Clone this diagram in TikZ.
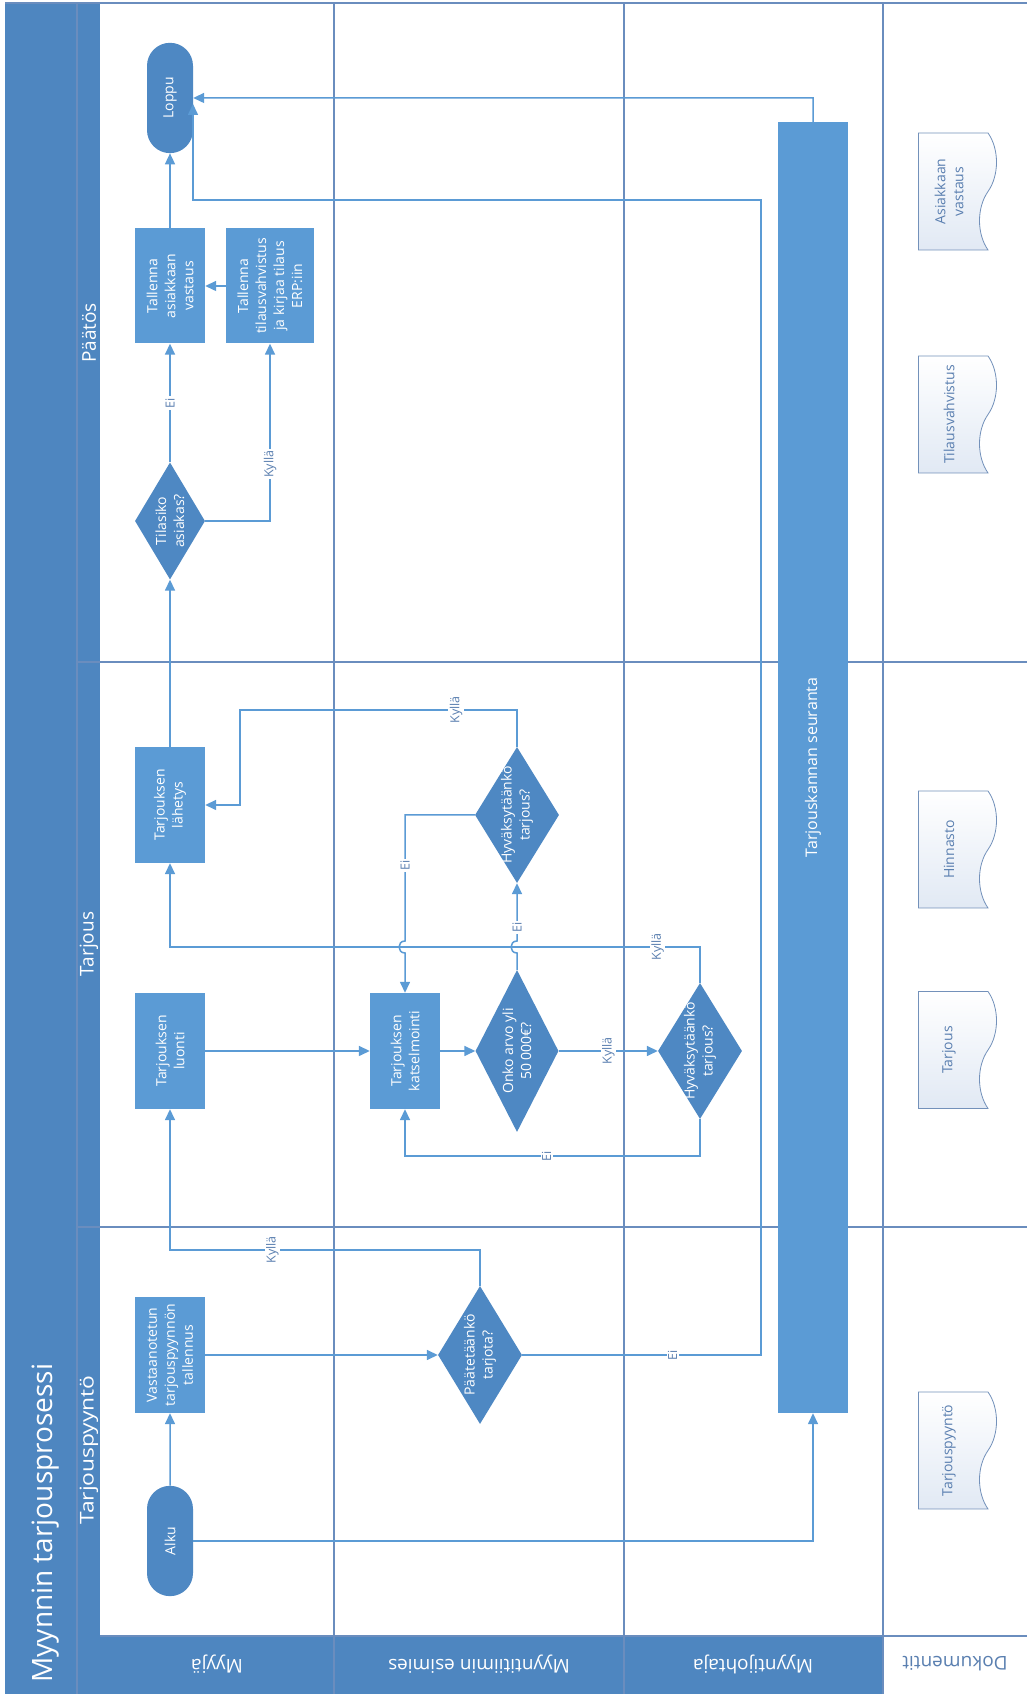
\documentclass[tikz,border=0pt]{standalone}
\usepackage{fontspec}
\setmainfont{Open Sans}
\usetikzlibrary{shapes.geometric, shapes.misc, shapes.symbols, arrows.meta}
\definecolor{laneblue}{HTML}{4E86C0}
\definecolor{procblue}{HTML}{5B9BD5}
\definecolor{decblue}{HTML}{4E88C3}
\definecolor{gridline}{HTML}{6A8DBE}
\definecolor{linkblue}{HTML}{5B9BD5}
\definecolor{labeltext}{HTML}{5A7FB0}
\definecolor{docfill}{HTML}{E1E9F4}
\definecolor{docline}{HTML}{7391BA}
\tikzset{
  block/.style={rectangle, fill=procblue, text=white, align=center,
                minimum width=116pt, minimum height=70pt, inner sep=2pt,
                font=\fontsize{14}{18}\selectfont},
  decision/.style={diamond, fill=decblue, inner sep=0pt,
                   minimum width=136pt, minimum height=84pt},
  dtext/.style={text=white, align=center, font=\fontsize{14}{18}\selectfont},
  terminal/.style={rounded rectangle, fill=decblue, text=white,
                   minimum width=117pt, minimum height=46pt,
                   font=\fontsize{14}{18}\selectfont},
  docshape/.style={tape, tape bend top=none, tape bend bottom=out and in,
                   tape bend height=17pt, draw=docline, line width=0.8pt,
                   top color=white, bottom color=docfill, text=labeltext,
                   align=center, minimum width=117pt, minimum height=78pt,
                   font=\fontsize{14}{18}\selectfont},
  lanelabel/.style={rotate=90, font=\fontsize{19}{22}\selectfont, text=white},
  phase/.style={font=\fontsize{19}{22}\selectfont, text=white},
  lane/.style={draw=gridline, line width=1.1pt},
  arrow/.style={-{Triangle[length=11pt,width=10pt]}, draw=linkblue, line width=1.5pt},
  lbl/.style={fill=white, text=labeltext, inner sep=1.5pt,
              font=\fontsize{12.5}{14}\selectfont},
}

\begin{document}
\begin{tikzpicture}[x=1pt, y=-1pt, rotate=90, transform shape]
  \useasboundingbox (0,0) rectangle (1694,1027);

  % frame, title and lanes
  \fill[laneblue] (0,5) rectangle (1691,100);
  \fill[white] (58,100) rectangle (1691,1027);
  \fill[laneblue] (0,100) rectangle (58,883);
  \draw[lane] (0,77) -- (1691,77);
  \draw[lane] (1691,5) -- (1691,1027);
  \draw[lane] (58,100) -- (58,1027);
  \foreach \y in {334,624,883}
    \draw[lane] (0,\y) -- (1691,\y);
  \foreach \x in {467,1032}
    \draw[lane] (\x,77) -- (\x,1027);

  \node[text=white, font=\fontsize{28}{32}\selectfont, anchor=base west] (title) at (8,52) {Myynnin tarjousprosessi};
  \node[phase, xscale=1.2] (ph1) at (244,89) {Tarjouspyyntö};
  \node[phase] (ph2) at (750,89) {Tarjous};
  \node[phase] (ph3) at (1361,89) {Päätös};

  \node[lanelabel] (lmyyja) at (30,217) {Myyjä};
  \node[lanelabel] (lesimies) at (30,479) {Myyntitiimin esimies};
  \node[lanelabel] (ljohtaja) at (30,753) {Myyntijohtaja};
  \node[lanelabel, text=labeltext] (ldoc) at (30,955) {Dokumentit};

  % process
  \node[terminal] (alku) at (153,170) {Alku};
  \node[block] (vast) at (339,170) {Vastaanotetun\\tarjouspyynnön\\tallennus};
  \node[decision, minimum width=138pt, label={[dtext]center:{Päätetäänkö\\tarjota?}}] (paat) at (339,480) {};
  \node[block] (luonti) at (643,170) {Tarjouksen\\luonti};
  \node[block] (katsel) at (643,405) {Tarjouksen\\katselmointi};
  \node[decision, minimum width=162pt, minimum height=83pt, label={[dtext]center:{Onko arvo yli\\50 000€?}}] (onko) at (643,517) {};
  \node[decision, label={[dtext]center:{Hyväksytäänkö\\tarjous?}}] (hyvesim) at (879,517) {};
  \node[decision, label={[dtext]center:{Hyväksytäänkö\\tarjous?}}] (hyvjoht) at (643,700) {};
  \node[block] (lahetys) at (889,170) {Tarjouksen\\lähetys};
  \node[decision, minimum width=117pt, minimum height=70pt, label={[dtext]center:{Tilasiko\\asiakas?}}] (tilasiko) at (1173,170) {};
  \node[block, minimum width=115pt] (vastaus) at (1408,170) {Tallenna\\asiakkaan\\vastaus};
  \node[block, minimum width=115pt, minimum height=88pt] (erp) at (1408,270) {Tallenna\\tilausvahvistus\\ja kirjaa tilaus\\ERP:iin};
  \node[terminal] (loppu) at (1596,170) {Loppu};
  \node[block, minimum width=1291pt, font=\fontsize{16}{19}\selectfont] (seuranta) at (926.5,813) {Tarjouskannan seuranta};
  \coordinate (loppuin) at (1590,193);

  % documents
  \node[docshape] (dpyynto) at (243.5,949) {Tarjouspyyntö};
  \node[docshape] (dtarjous) at (644,949) {Tarjous};
  \node[docshape] (dhinnasto) at (844.5,949) {Hinnasto};
  \node[docshape] (dvahvistus) at (1279.5,949) {Tilausvahvistus};
  \node[docshape] (dvastaus) at (1502.5,949) {Asiakkaan\\vastaus};

  % connectors
  \draw[arrow] (alku) -- (vast);
  \draw[arrow] (alku.south) -- (153,813) -- (seuranta.west);
  \draw[arrow] (vast) -- (paat);
  \draw[arrow] (paat.south) -- node[lbl, pos=0.63]{Ei} (339,761) -- (1494,761) -- (1494,193) -- (loppuin);
  \draw[arrow] (paat.east) -- (444,480) -- node[lbl, pos=0.67]{Kyllä} (444,170) -- (luonti);
  \draw[arrow] (luonti) -- (katsel);
  \draw[arrow] (katsel) -- (onko);
  \draw[arrow] (onko) -- node[lbl]{Kyllä} (hyvjoht);
  \draw[arrow] (onko.east) -- (741,517) .. controls (741,509) and (753,509) .. (753,517) -- node[lbl, pos=0.24]{Ei} (hyvesim.west);
  \draw[arrow] (hyvesim.east) -- (984,517) -- node[lbl, pos=0.22]{Kyllä} (984,240) -- (889,240) -- (lahetys.south);
  \draw[arrow] (hyvesim.north) -- (879,405) -- node[lbl, pos=0.4]{Ei} (753,405) .. controls (753,397) and (741,397) .. (741,405) -- (katsel.east);
  \draw[arrow] (hyvjoht.east) -- (747,700) -- node[lbl, pos=0.08]{Kyllä} (747,170) -- (lahetys);
  \draw[arrow] (hyvjoht.west) -- (538,700) -- node[lbl, pos=0.52]{Ei} (538,405) -- (katsel);
  \draw[arrow] (lahetys) -- (tilasiko);
  \draw[arrow] (tilasiko) -- node[lbl]{Ei} (vastaus);
  \draw[arrow] (tilasiko.south) -- (1173,270) -- node[lbl, pos=0.32]{Kyllä} (erp);
  \draw[arrow] (erp) -- (vastaus);
  \draw[arrow] (vastaus) -- (loppu);
  \draw[arrow] (seuranta.east) -- (1596,813) -- (loppu);
\end{tikzpicture}
\end{document}
